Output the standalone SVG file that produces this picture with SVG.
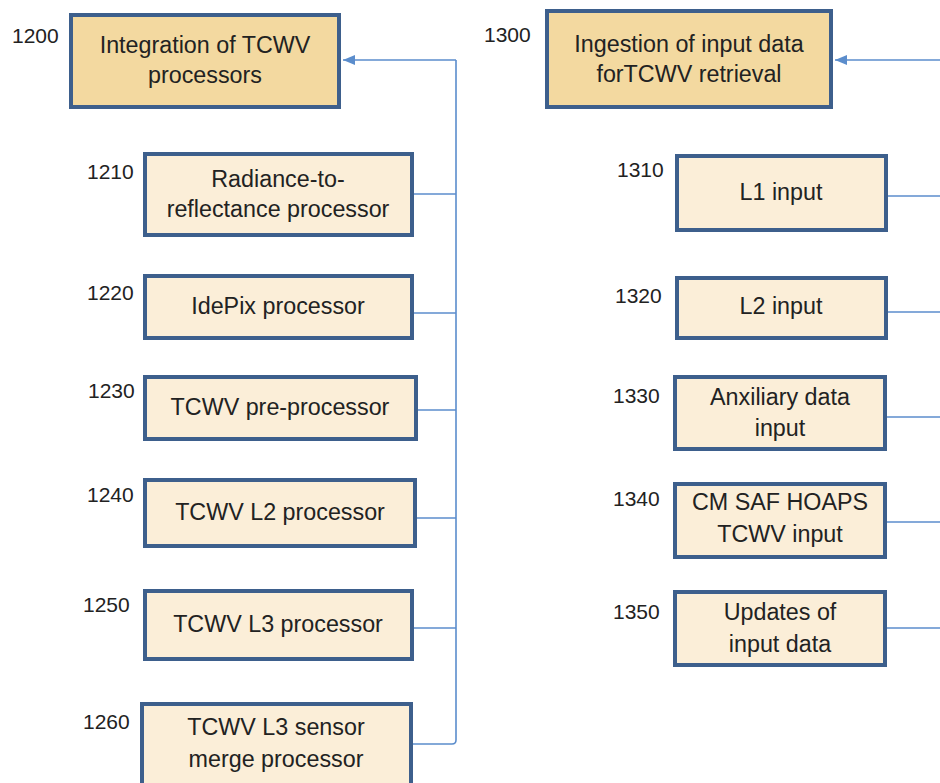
<svg xmlns="http://www.w3.org/2000/svg" width="940" height="783" viewBox="0 0 940 783">
<style>
.top{fill:#f3d9a0;stroke:#3d5f8c;stroke-width:4}
.sub{fill:#fbeed8;stroke:#3d5f8c;stroke-width:4}
.t{font-family:"Liberation Sans",Arial,sans-serif;font-size:23.3px;fill:#222;text-anchor:middle}
.n{font-family:"Liberation Sans",Arial,sans-serif;font-size:21px;fill:#222}
.c{fill:none;stroke:#5b8dcc;stroke-width:1.6}
</style>
<defs>
<marker id="ah" viewBox="0 0 12 10" refX="12" refY="5" markerWidth="12" markerHeight="10" markerUnits="userSpaceOnUse" orient="auto">
<path d="M0,0 L12,5 L0,10 Z" fill="#5b8dcc"/>
</marker>
</defs>
<g id="connectors">
<path class="c" d="M456,60 H343" marker-end="url(#ah)"/>
<path class="c" d="M456,60 V740 Q456,744 452,744 H413"/>
<path class="c" d="M414,194 H456"/>
<path class="c" d="M414,313 H456"/>
<path class="c" d="M418,410 H456"/>
<path class="c" d="M417,518 H456"/>
<path class="c" d="M414,628 H456"/>
<path class="c" d="M940,60 H835" marker-end="url(#ah)"/>
<path class="c" d="M888,196 H940"/>
<path class="c" d="M888,312 H940"/>
<path class="c" d="M887,417 H940"/>
<path class="c" d="M887,522 H940"/>
<path class="c" d="M887,628 H940"/>
</g>
<g id="n1200">
<rect class="top" x="71" y="15" width="268" height="92"/>
<text class="n" x="12" y="43">1200</text>
<text class="t" x="205" y="53">Integration of TCWV</text>
<text class="t" x="205" y="83">processors</text>
</g>
<g id="n1210">
<rect class="sub" x="145" y="154" width="267" height="81"/>
<text class="n" x="87" y="179">1210</text>
<text class="t" x="278" y="187">Radiance-to-</text>
<text class="t" x="278" y="217">reflectance processor</text>
</g>
<g id="n1220">
<rect class="sub" x="145" y="276" width="267" height="62"/>
<text class="n" x="87" y="300">1220</text>
<text class="t" x="278" y="314">IdePix processor</text>
</g>
<g id="n1230">
<rect class="sub" x="145" y="377" width="271" height="62"/>
<text class="n" x="88" y="398">1230</text>
<text class="t" x="280" y="415">TCWV pre-processor</text>
</g>
<g id="n1240">
<rect class="sub" x="145" y="480" width="270" height="66"/>
<text class="n" x="87" y="502">1240</text>
<text class="t" x="280" y="520">TCWV L2 processor</text>
</g>
<g id="n1250">
<rect class="sub" x="145" y="591" width="267" height="68"/>
<text class="n" x="83" y="612">1250</text>
<text class="t" x="278" y="632">TCWV L3 processor</text>
</g>
<g id="n1260">
<rect class="sub" x="142" y="704" width="269" height="90"/>
<text class="n" x="83" y="729">1260</text>
<text class="t" x="276" y="735">TCWV L3 sensor</text>
<text class="t" x="276" y="767">merge processor</text>
</g>
<g id="n1300">
<rect class="top" x="547" y="11" width="284" height="96"/>
<text class="n" x="484" y="42">1300</text>
<text class="t" x="689" y="52">Ingestion of input data</text>
<text class="t" x="689" y="82">forTCWV retrieval</text>
</g>
<g id="n1310">
<rect class="sub" x="677" y="156" width="209" height="74"/>
<text class="n" x="617" y="177">1310</text>
<text class="t" x="781" y="200">L1 input</text>
</g>
<g id="n1320">
<rect class="sub" x="677" y="278" width="209" height="60"/>
<text class="n" x="615" y="303">1320</text>
<text class="t" x="781" y="314">L2 input</text>
</g>
<g id="n1330">
<rect class="sub" x="675" y="377" width="210" height="72"/>
<text class="n" x="613" y="403">1330</text>
<text class="t" x="780" y="405">Anxiliary data</text>
<text class="t" x="780" y="436">input</text>
</g>
<g id="n1340">
<rect class="sub" x="675" y="484" width="210" height="73"/>
<text class="n" x="613" y="506">1340</text>
<text class="t" x="780" y="510">CM SAF HOAPS</text>
<text class="t" x="780" y="542">TCWV input</text>
</g>
<g id="n1350">
<rect class="sub" x="675" y="592" width="210" height="73"/>
<text class="n" x="613" y="619">1350</text>
<text class="t" x="780" y="620">Updates of</text>
<text class="t" x="780" y="652">input data</text>
</g>
</svg>
